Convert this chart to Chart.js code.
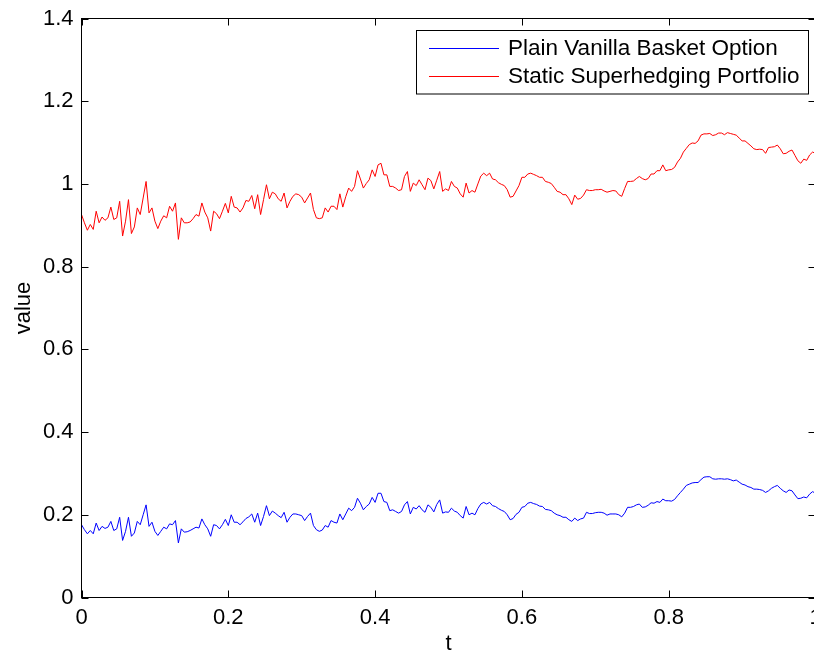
<!DOCTYPE html>
<html>
<head>
<meta charset="utf-8">
<script src="https://cdn.jsdelivr.net/npm/chart.js@4"></script>
<style>
  html, body { margin: 0; padding: 0; background: #fff; overflow: hidden; }
  #wrap { width: 818px; height: 653px; }
</style>
</head>
<body>
<div id="wrap"><canvas id="c" width="818" height="653"></canvas></div>
<script>
// time grid: 250 steps on [0, 1]
const steps = 250;
const t = Array.from({ length: steps + 1 }, (_, i) => i / steps);

const seriesNames = ['Plain Vanilla Basket Option', 'Static Superhedging Portfolio'];

// value of the plain vanilla basket option
const basketOption = [
  0.176, 0.164, 0.154, 0.162, 0.154, 0.180, 0.162, 0.172, 0.167, 0.170,
  0.184, 0.162, 0.166, 0.194, 0.138, 0.160, 0.194, 0.148, 0.156, 0.184,
  0.176, 0.200, 0.224, 0.172, 0.182, 0.160, 0.150, 0.160, 0.170, 0.166,
  0.178, 0.176, 0.186, 0.132, 0.166, 0.158, 0.159, 0.162, 0.166, 0.170,
  0.168, 0.190, 0.176, 0.166, 0.148, 0.176, 0.174, 0.166, 0.176, 0.189,
  0.174, 0.200, 0.182, 0.182, 0.176, 0.183, 0.191, 0.195, 0.202, 0.182,
  0.204, 0.174, 0.196, 0.222, 0.198, 0.209, 0.204, 0.198, 0.193, 0.206,
  0.182, 0.194, 0.202, 0.202, 0.200, 0.198, 0.186, 0.196, 0.204, 0.174,
  0.164, 0.160, 0.163, 0.174, 0.170, 0.186, 0.182, 0.180, 0.202, 0.188,
  0.202, 0.216, 0.210, 0.218, 0.240, 0.228, 0.212, 0.220, 0.226, 0.242,
  0.230, 0.252, 0.252, 0.232, 0.230, 0.210, 0.212, 0.208, 0.204, 0.208,
  0.224, 0.232, 0.202, 0.218, 0.214, 0.222, 0.212, 0.206, 0.224, 0.218,
  0.207, 0.225, 0.236, 0.204, 0.207, 0.206, 0.216, 0.209, 0.206, 0.198,
  0.192, 0.220, 0.200, 0.204, 0.200, 0.215, 0.226, 0.230, 0.226, 0.230,
  0.222, 0.220, 0.215, 0.211, 0.208, 0.200, 0.188, 0.191, 0.201, 0.206,
  0.218, 0.220, 0.228, 0.230, 0.227, 0.225, 0.221, 0.220, 0.213, 0.212,
  0.210, 0.204, 0.200, 0.198, 0.194, 0.194, 0.188, 0.184, 0.192, 0.186,
  0.190, 0.192, 0.206, 0.203, 0.203, 0.205, 0.206, 0.206, 0.204, 0.199,
  0.202, 0.202, 0.202, 0.200, 0.195, 0.204, 0.218, 0.218, 0.220, 0.224,
  0.226, 0.218, 0.219, 0.223, 0.229, 0.228, 0.232, 0.230, 0.238, 0.234,
  0.234, 0.233, 0.237, 0.246, 0.254, 0.262, 0.271, 0.274, 0.277, 0.278,
  0.278, 0.285, 0.291, 0.292, 0.292, 0.287, 0.286, 0.287, 0.287, 0.286,
  0.287, 0.285, 0.282, 0.284, 0.279, 0.274, 0.272, 0.268, 0.266, 0.262,
  0.262, 0.261, 0.259, 0.254, 0.258, 0.264, 0.268, 0.271, 0.264, 0.258,
  0.254, 0.260, 0.258, 0.248, 0.239, 0.240, 0.243, 0.241, 0.250, 0.256,
  0.252
];

// value of the static superhedging portfolio
const superhedge = [
  0.926, 0.906, 0.888, 0.902, 0.890, 0.934, 0.906, 0.920, 0.912, 0.918,
  0.944, 0.914, 0.918, 0.958, 0.874, 0.910, 0.962, 0.880, 0.896, 0.942,
  0.926, 0.966, 1.006, 0.930, 0.942, 0.910, 0.892, 0.910, 0.923, 0.918,
  0.946, 0.934, 0.954, 0.866, 0.918, 0.906, 0.906, 0.908, 0.916, 0.926,
  0.922, 0.954, 0.932, 0.918, 0.886, 0.934, 0.928, 0.916, 0.934, 0.953,
  0.930, 0.970, 0.944, 0.942, 0.932, 0.942, 0.960, 0.958, 0.972, 0.940,
  0.974, 0.926, 0.962, 0.998, 0.964, 0.980, 0.976, 0.964, 0.958, 0.978,
  0.942, 0.958, 0.970, 0.976, 0.974, 0.968, 0.954, 0.966, 0.978, 0.938,
  0.918, 0.916, 0.918, 0.942, 0.932, 0.946, 0.946, 0.938, 0.976, 0.944,
  0.969, 0.990, 0.982, 0.994, 1.032, 1.012, 0.990, 1.001, 1.010, 1.034,
  1.018, 1.046, 1.050, 1.022, 1.022, 0.994, 0.994, 0.990, 0.984, 0.986,
  1.018, 1.030, 0.982, 1.002, 0.996, 1.010, 0.998, 0.986, 1.014, 1.008,
  0.988, 1.009, 1.030, 0.982, 0.988, 0.984, 1.006, 0.994, 0.990, 0.976,
  0.968, 1.002, 0.978, 0.984, 0.980, 1.000, 1.019, 1.026, 1.020, 1.026,
  1.012, 1.010, 1.003, 0.999, 0.996, 0.986, 0.968, 0.970, 0.983, 0.996,
  1.016, 1.016, 1.024, 1.026, 1.023, 1.020, 1.016, 1.016, 1.006, 1.004,
  1.001, 0.992, 0.982, 0.980, 0.974, 0.974, 0.964, 0.950, 0.973, 0.963,
  0.965, 0.973, 0.986, 0.984, 0.984, 0.986, 0.986, 0.987, 0.983, 0.980,
  0.982, 0.984, 0.983, 0.974, 0.970, 0.989, 1.006, 1.006, 1.007, 1.013,
  1.018, 1.013, 1.010, 1.013, 1.024, 1.024, 1.032, 1.032, 1.046, 1.032,
  1.034, 1.035, 1.040, 1.053, 1.062, 1.077, 1.086, 1.095, 1.099, 1.098,
  1.104, 1.118, 1.121, 1.121, 1.122, 1.117, 1.119, 1.123, 1.123, 1.119,
  1.124, 1.122, 1.120, 1.118, 1.111, 1.104, 1.104, 1.098, 1.092, 1.085,
  1.083, 1.084, 1.083, 1.074, 1.088, 1.089, 1.090, 1.094, 1.085, 1.073,
  1.074, 1.079, 1.082, 1.069, 1.056, 1.050, 1.060, 1.057, 1.070, 1.077,
  1.074
];

const xTicks = [0, 0.2, 0.4, 0.6, 0.8, 1];
const xTickLabels = ['0', '0.2', '0.4', '0.6', '0.8', '1'];
const yTicks = [0, 0.2, 0.4, 0.6, 0.8, 1, 1.2, 1.4];
const yTickLabels = ['0', '0.2', '0.4', '0.6', '0.8', '1', '1.2', '1.4'];

const FAMILY = '"Liberation Sans", Arial, Helvetica, sans-serif';
Chart.defaults.font.family = FAMILY;
Chart.defaults.color = '#000';

// boxed axes with inward tick marks on all four sides, plus a boxed legend
const framePlugin = {
  id: 'boxedAxes',
  afterDatasetsDraw(chart) {
    const { ctx, chartArea: a, scales: { x, y } } = chart;
    const L = 7;
    ctx.save();
    ctx.strokeStyle = '#000';
    ctx.lineWidth = 1;
    ctx.beginPath();
    x.ticks.forEach(tk => {
      const px = Math.round(x.getPixelForValue(tk.value)) + 0.5;
      ctx.moveTo(px, a.bottom); ctx.lineTo(px, a.bottom - L);
      ctx.moveTo(px, a.top); ctx.lineTo(px, a.top + L);
    });
    y.ticks.forEach(tk => {
      const py = Math.round(y.getPixelForValue(tk.value)) + 0.5;
      ctx.moveTo(a.left, py); ctx.lineTo(a.left + L, py);
      ctx.moveTo(a.right, py); ctx.lineTo(a.right - L, py);
    });
    ctx.stroke();
    ctx.strokeRect(a.left, a.top, a.right - a.left, a.bottom - a.top);

    // legend
    ctx.font = '22.5px ' + FAMILY;
    const sets = chart.data.datasets;
    const maxW = Math.max(...sets.map(d => ctx.measureText(d.label).width));
    const textOff = 91.5;
    const w = textOff + maxW + 9;
    const h = 63.5;
    const right = Math.round(a.right - 8) + 0.5;
    const top = Math.round(a.top + 11) + 0.5;
    const left = right - Math.round(w);
    ctx.fillStyle = '#fff';
    ctx.fillRect(left, top, right - left, h);
    ctx.strokeStyle = '#000';
    ctx.strokeRect(left, top, right - left, h);
    const rows = [17.5, 45];
    sets.forEach((d, i) => {
      const ry = top + rows[i];
      ctx.strokeStyle = d.borderColor;
      ctx.lineWidth = 1;
      ctx.beginPath();
      ctx.moveTo(left + 12.5, Math.round(ry) + 0.5);
      ctx.lineTo(left + 82.5, Math.round(ry) + 0.5);
      ctx.stroke();
      ctx.fillStyle = '#000';
      ctx.textAlign = 'left';
      ctx.textBaseline = 'middle';
      ctx.fillText(d.label, left + textOff, ry + 1);
    });
    ctx.restore();
  }
};

new Chart(document.getElementById('c'), {
  type: 'line',
  data: {
    datasets: [
      {
        label: seriesNames[0],
        data: t.map((v, i) => ({ x: v, y: basketOption[i] })),
        borderColor: '#0000ff',
        borderWidth: 1,
        pointRadius: 0,
        tension: 0,
        fill: false
      },
      {
        label: seriesNames[1],
        data: t.map((v, i) => ({ x: v, y: superhedge[i] })),
        borderColor: '#ff0000',
        borderWidth: 1,
        pointRadius: 0,
        tension: 0,
        fill: false
      }
    ]
  },
  options: {
    responsive: false,
    animation: false,
    devicePixelRatio: 1,
    layout: { padding: { left: 0, top: 18.5, right: 2.5, bottom: 0 } },
    plugins: { legend: { display: false }, tooltip: { enabled: false } },
    scales: {
      x: {
        type: 'linear',
        min: 0,
        max: 1,
        grid: { display: false, drawTicks: false },
        border: { display: false },
        afterBuildTicks: s => { s.ticks = xTicks.map(v => ({ value: v })); },
        ticks: {
          autoSkip: false,
          maxRotation: 0,
          padding: 7,
          color: '#000',
          font: { size: 22 },
          callback: (v, i) => xTickLabels[i]
        },
        title: {
          display: true,
          text: 't',
          color: '#000',
          font: { size: 22, lineHeight: 1 },
          padding: { top: 0, bottom: -2 }
        },
        afterFit: s => { s.height = 55.5; s.paddingLeft = 0; s.paddingRight = 0; }
      },
      y: {
        type: 'linear',
        min: 0,
        max: 1.4,
        grid: { display: false, drawTicks: false },
        border: { display: false },
        afterBuildTicks: s => { s.ticks = yTicks.map(v => ({ value: v })); },
        ticks: {
          autoSkip: false,
          padding: 8,
          color: '#000',
          font: { size: 22 },
          callback: (v, i) => yTickLabels[i]
        },
        title: {
          display: true,
          text: 'value',
          color: '#000',
          font: { size: 22, lineHeight: 1 },
          padding: { top: 13, bottom: 0 }
        },
        afterFit: s => { s.width = 81.5; s.paddingTop = 0; s.paddingBottom = 0; }
      }
    }
  },
  plugins: [framePlugin]
});
</script>
</body>
</html>
